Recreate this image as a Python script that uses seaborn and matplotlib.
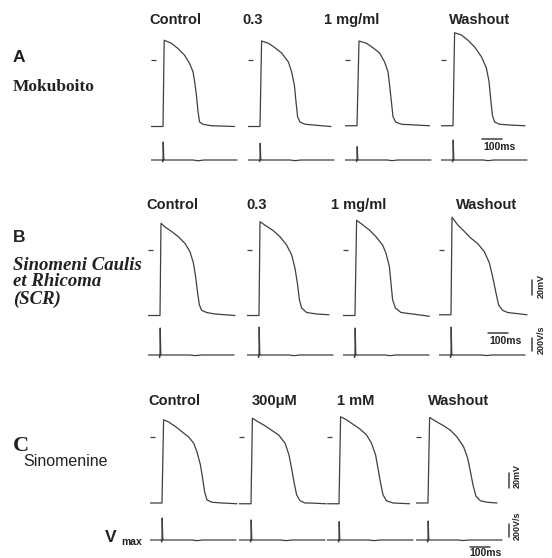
import matplotlib
matplotlib.use("Agg")
import matplotlib.pyplot as plt
import seaborn as sns

sns.set_theme(style="white")
plt.rcParams['font.family'] = ['Liberation Sans', 'DejaVu Sans']

# canvas and recording scales (pixels per unit)
W, H = 552, 558
PX_MS = 0.2      # 100 ms = 20 px
PX_MV = 0.75     # 20 mV = 15 px
PX_VS = 0.065    # 200 V/s = 13 px
LINE = '#404040'

# ---- data: action potentials (ms after upstroke, mV) ----
cond_a = ["Control", "0.3", "1 mg/ml", "Washout"]
cond_b = ["Control", "0.3", "1 mg/ml", "Washout"]
cond_c = ["Control", "300\u03bcM", "1 mM", "Washout"]

ap_a_t = [
    [-60, 0, 6, 42, 75, 108, 133, 150, 158, 167, 175, 183, 200, 242, 358],
    [-60, 0, 8, 42, 75, 108, 142, 158, 172, 180, 188, 200, 225, 308, 355],
    [-60, 0, 10, 47, 80, 113, 138, 155, 163, 172, 180, 193, 222, 363],
    [-60, 0, 8, 42, 75, 108, 142, 167, 180, 188, 197, 208, 233, 283, 360],
]
ap_a_mv = [
    [-88, -88, 27, 23, 16, 7, -4, -15, -28, -46, -68, -82, -85, -87, -88],
    [-88, -88, 26, 23, 17, 10, -2, -15, -33, -55, -75, -82, -85, -87, -88],
    [-87, -87, 26, 23, 17, 10, -2, -15, -33, -55, -75, -82, -85, -87],
    [-87, -87, 37, 34, 27, 18, 5, -10, -28, -50, -73, -82, -85, -86, -87],
]

ap_b_t = [
    [-60, 0, 5, 25, 58, 92, 125, 150, 167, 178, 188, 197, 208, 233, 275, 375],
    [-60, 0, 5, 38, 72, 105, 138, 163, 180, 192, 202, 213, 238, 288, 350],
    [-60, 0, 8, 38, 72, 105, 138, 155, 172, 180, 188, 202, 230, 288, 372],
    [-60, 0, 5, 33, 67, 100, 133, 167, 192, 208, 225, 238, 258, 283, 380],
]
ap_b_mv = [
    [-88, -88, 35, 30, 24, 17, 8, -3, -18, -36, -58, -74, -81, -84, -86, -88],
    [-88, -88, 37, 31, 25, 17, 6, -7, -25, -45, -67, -78, -84, -86, -87],
    [-88, -88, 39, 33, 26, 17, 6, -5, -23, -45, -67, -78, -84, -86, -89],
    [-87, -87, 43, 33, 24, 15, 8, -3, -18, -36, -58, -74, -81, -84, -87],
]

ap_c_t = [
    [-60, 0, 8, 33, 67, 100, 133, 158, 175, 192, 203, 213, 225, 250, 300, 375],
    [-60, 0, 7, 37, 70, 103, 137, 170, 190, 203, 215, 228, 245, 270, 295, 375],
    [-60, 0, 8, 37, 70, 103, 137, 162, 183, 195, 207, 220, 237, 270, 353],
    [-60, 0, 8, 45, 78, 112, 145, 178, 198, 212, 225, 240, 262, 295, 345],
]
ap_c_mv = [
    [-88, -88, 23, 20, 14, 7, 0, -8, -20, -37, -55, -73, -84, -87, -88, -89],
    [-89, -89, 25, 20, 15, 9, 3, -8, -24, -42, -60, -77, -85, -88, -88, -89],
    [-89, -89, 27, 23, 17, 11, 3, -8, -24, -42, -60, -77, -85, -88, -89],
    [-88, -88, 26, 20, 15, 9, 0, -13, -28, -46, -64, -79, -85, -87, -88],
]

# ---- data: Vmax (dV/dt) traces, V/s ----
vmax_t = [-60, -4, -2, 0, 1, 4, 7, 150, 175, 205, 370]
vmax_a = [
    [0, 0, -30, 0, 277, 0, 0, 0, -12, 0, 0],
    [0, 0, -25, 0, 257, 0, 0, 0, -10, 0, 0],
    [0, 0, -25, 0, 205, 0, 0, 0, -10, 0, 0],
    [0, 0, -30, 0, 308, 0, 0, 0, -10, 0, 0],
]
vmax_b = [
    [0, 0, -40, 0, 415, 0, 0, 0, -10, 0, 0],
    [0, 0, -40, 0, 430, 0, 0, 0, -10, 0, 0],
    [0, 0, -40, 0, 415, 0, 0, 0, -10, 0, 0],
    [0, 0, -40, 0, 430, 0, 0, 0, -8, 0, 0],
]
vmax_c = [
    [0, 0, -30, 0, 338, 0, 0, 0, -10, 0, 0],
    [0, 0, -30, 0, 308, 0, 0, 0, -10, 0, 0],
    [0, 0, -30, 0, 282, 0, 0, 0, -10, 0, 0],
    [0, 0, -30, 0, 292, 0, 0, 0, -8, 0, 0],
]

# layout (pixels): upstroke x of each column, zero-mV level, Vmax baseline, header row
panels = [
    dict(ap_t=ap_a_t, ap_v=ap_a_mv, vm=vmax_a, cond=cond_a,
         x0=[163, 260, 357, 453], zero=60.5, vbase=160, head_y=20,
         head_x=[175, 253, 352, 480]),
    dict(ap_t=ap_b_t, ap_v=ap_b_mv, vm=vmax_b, cond=cond_b,
         x0=[160, 259, 355, 451], zero=249.5, vbase=355, head_y=205,
         head_x=[172, 257, 359, 487]),
    dict(ap_t=ap_c_t, ap_v=ap_c_mv, vm=vmax_c, cond=cond_c,
         x0=[162, 251, 339, 428], zero=437, vbase=540, head_y=401,
         head_x=[174, 275, 356, 459]),
]

fig = plt.figure(figsize=(W / 100, H / 100), dpi=100)
fig.patch.set_facecolor('white')

# overlay axes in pixel coordinates for labels and scale bars
ov = fig.add_axes([0, 0, 1, 1])
ov.set_xlim(0, W)
ov.set_ylim(H, 0)
ov.axis('off')


def px_axes(left, top, w, h):
    ax = fig.add_axes([left / W, 1 - (top + h) / H, w / W, h / H])
    ax.patch.set_alpha(0)
    for s in ax.spines.values():
        s.set_visible(False)
    ax.set_xticks([])
    ax.set_yticks([])
    return ax


T0, T1 = -60, 385
MV0, MV1 = -100, 50
VS0, VS1 = -60, 480
TXT = '#222222'

for p in panels:
    for i in range(4):
        x0 = p['x0'][i]
        left = x0 + T0 * PX_MS
        w = (T1 - T0) * PX_MS
        # action potential
        ax = px_axes(left, p['zero'] - MV1 * PX_MV, w, (MV1 - MV0) * PX_MV)
        sns.lineplot(x=p['ap_t'][i], y=p['ap_v'][i], ax=ax, color=LINE,
                     lw=0.9, sort=False, estimator=None)
        ax.set_xlim(T0, T1)
        ax.set_ylim(MV0, MV1)
        ax.set_yticks([0])
        ax.tick_params(axis='y', left=True, direction='in', length=3.6,
                       width=0.9, color=LINE, labelleft=False)
        ax.set_xlabel('')
        ax.set_ylabel('')
        # Vmax trace
        axv = px_axes(left, p['vbase'] - VS1 * PX_VS, w, (VS1 - VS0) * PX_VS)
        sns.lineplot(x=vmax_t, y=p['vm'][i], ax=axv, color=LINE,
                     lw=0.9, sort=False, estimator=None)
        axv.set_xlim(T0, T1)
        axv.set_ylim(VS0, VS1)
        axv.set_xlabel('')
        axv.set_ylabel('')
        # header
        ov.text(p['head_x'][i], p['head_y'], p['cond'][i], ha='center',
                va='center', fontsize=10.5, fontweight='bold', color=TXT)

# panel labels
ov.text(13, 58, "A", fontsize=12.5, fontweight='bold', va='center', color=TXT)
ov.text(13, 87, "Mokuboito", fontsize=12.5, fontweight='bold', va='center',
        family='Liberation Serif', color=TXT)
ov.text(13, 237, "B", fontsize=12.5, fontweight='bold', va='center', color=TXT)
for yy, s in [(265, "Sinomeni Caulis"), (282, "et Rhicoma"), (299, "(SCR)")]:
    ov.text(13, yy, s, fontsize=13.5, fontweight='bold', style='italic',
            va='center', family='Liberation Serif', color=TXT)
ov.text(13, 446, "C", fontsize=16, fontweight='bold', va='center',
        family='Liberation Serif', color=TXT)
ov.text(23, 461, "Sinomenine", fontsize=11.5, va='center', color=TXT)
ov.text(105, 537, "V", fontsize=12.5, fontweight='bold', va='center', color=TXT)
ov.text(121, 542, "max", fontsize=7.5, fontweight='bold', va='center', color=TXT)


# scale bars
def hbar(x, y, tx, ty):
    ov.plot([x, x + 100 * PX_MS], [y, y], color=LINE, lw=1.1)
    ov.text(tx, ty, "100ms", ha='center', va='center', fontsize=7.5,
            fontweight='bold', color=TXT)


def vbar(x, y_bottom, length_px, label, tx, ty):
    ov.plot([x, x], [y_bottom, y_bottom - length_px], color=LINE, lw=1.1)
    ov.text(tx, ty, label, ha='center', va='center', rotation=90,
            fontsize=6.5, fontweight='bold', color=TXT)


hbar(482, 139, 500, 147)
hbar(488, 333, 506, 341)
hbar(470, 547, 485, 553)
vbar(532, 295, 20 * PX_MV, "20mV", 541, 286)
vbar(532, 351, 200 * PX_VS, "200V/s", 541, 340)
vbar(509, 488, 20 * PX_MV, "20mV", 517, 476)
vbar(509, 537, 200 * PX_VS, "200V/s", 517, 526)

fig.savefig("out.png", dpi=100, facecolor='white')
